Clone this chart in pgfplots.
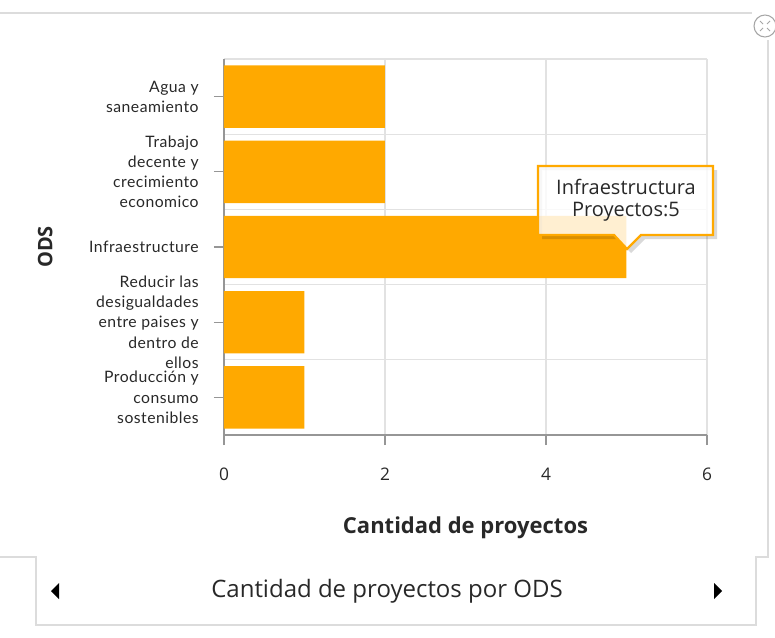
\documentclass[border=0pt]{standalone}
\usepackage{pgfplots}
\pgfplotsset{compat=1.18}
\usepackage{fontspec}
\setmainfont{Open Sans}
\newfontfamily\latofont[LetterSpace=3]{Lato}
\definecolor{ods}{RGB}{255,169,0}
\definecolor{axgray}{RGB}{150,150,150}
\definecolor{gridgray}{RGB}{226,226,226}
\definecolor{panelgray}{RGB}{220,220,220}
\definecolor{txt}{RGB}{40,40,40}
\begin{document}
\begin{tikzpicture}
\useasboundingbox (0,0) rectangle (581.25pt,477.75pt);
\begin{axis}[
  at={(168pt,151.5pt)}, anchor=south west,
  scale only axis, width=362.25pt, height=282pt,
  xbar, bar width=0.83,
  xmin=0, xmax=6, xtick={0,2,4,6},
  ymin=-0.5, ymax=4.5, y dir=reverse,
  ytick={0,1,2,3,4},
  yticklabels={{Agua y\\saneamiento},{Trabajo\\decente y\\crecimiento\\economico},{Infraestructure},{Reducir las\\desigualdades\\entre paises y\\dentro de\\ellos},{Producción y\\consumo\\sostenibles}},
  minor ytick={-0.5,0.5,1.5,2.5,3.5,4.5},
  minor tick length=0pt,
  yminorgrids, xmajorgrids,
  grid style={gridgray, line width=0.8pt},
  minor grid style={gridgray, line width=0.8pt},
  axis x line*=bottom, axis y line*=left,
  axis line style={axgray, line width=0.9pt, -},
  tick style={axgray, line width=0.9pt},
  tick align=outside, major tick length=7.5pt,
  /pgf/number format/assume math mode=true,
  xticklabel style={font=\fontsize{13}{15}\selectfont, text=txt, yshift=-14pt},
  yticklabel style={align=right, font=\latofont\fontsize{11.8}{15.2}\selectfont, text=txt, xshift=-8pt},
  xlabel={\textbf{Cantidad de proyectos}},
  xlabel style={at={(axis description cs:0.5,0)}, anchor=center, yshift=-69.5pt, font=\fontsize{16.5}{18}\selectfont, text=txt},
  ylabel={\textbf{ODS}},
  ylabel style={at={(axis description cs:-0.37,0.5)}, anchor=center, font=\fontsize{15}{16}\selectfont, text=txt},
]
\addplot[fill=ods, draw=none] coordinates {(2,0) (2,1) (5,2) (1,3) (1,4)};
\end{axis}
\begin{scope}[x=0.75pt, y=-0.75pt, yshift=477.75pt]
  % panel outlines
  \draw[panelgray, line width=2.2pt] (0,13) -- (752,13);
  \draw[panelgray, line width=1pt] (0,557) -- (36,557) -- (36,625) -- (756,625) -- (756,557) -- (768,557) -- (768,40);
  \draw[gray!70, line width=0.8pt, fill=white] (765,26) circle (11);
  \draw[gray!70, line width=0.6pt] (760,21) -- (763,24) (770,31) -- (767,28) (770,21) -- (767,24) (760,31) -- (763,28);
  % navigation
  \fill[black] (59,583) -- (59,599) -- (51,591) -- cycle;
  \fill[black] (714,583) -- (714,599) -- (722,591) -- cycle;
  \node[text=txt, font=\fontsize{18}{20}\selectfont] at (387,591) {Cantidad de proyectos por ODS};
  % tooltip
  \fill[black, opacity=0.15, even odd rule] (542,170) -- (717,170) -- (717,239) -- (645,239) -- (631,253) -- (618,239) -- (542,239) -- cycle
     (538,166) -- (713,166) -- (713,235) -- (641,235) -- (627,249) -- (614,235) -- (538,235) -- cycle;
  \draw[ods, line width=1.7pt, fill=white, fill opacity=0.82] (538,166) -- (713,166) -- (713,235) -- (641,235) -- (627,249) -- (614,235) -- (538,235) -- cycle;
  \node[text=txt, font=\fontsize{15}{17}\selectfont] at (626,187) {Infraestructura};
  \node[text=txt, font=\fontsize{15}{17}\selectfont] at (626,212) {Proyectos:5};
\end{scope}
\end{tikzpicture}
\end{document}
